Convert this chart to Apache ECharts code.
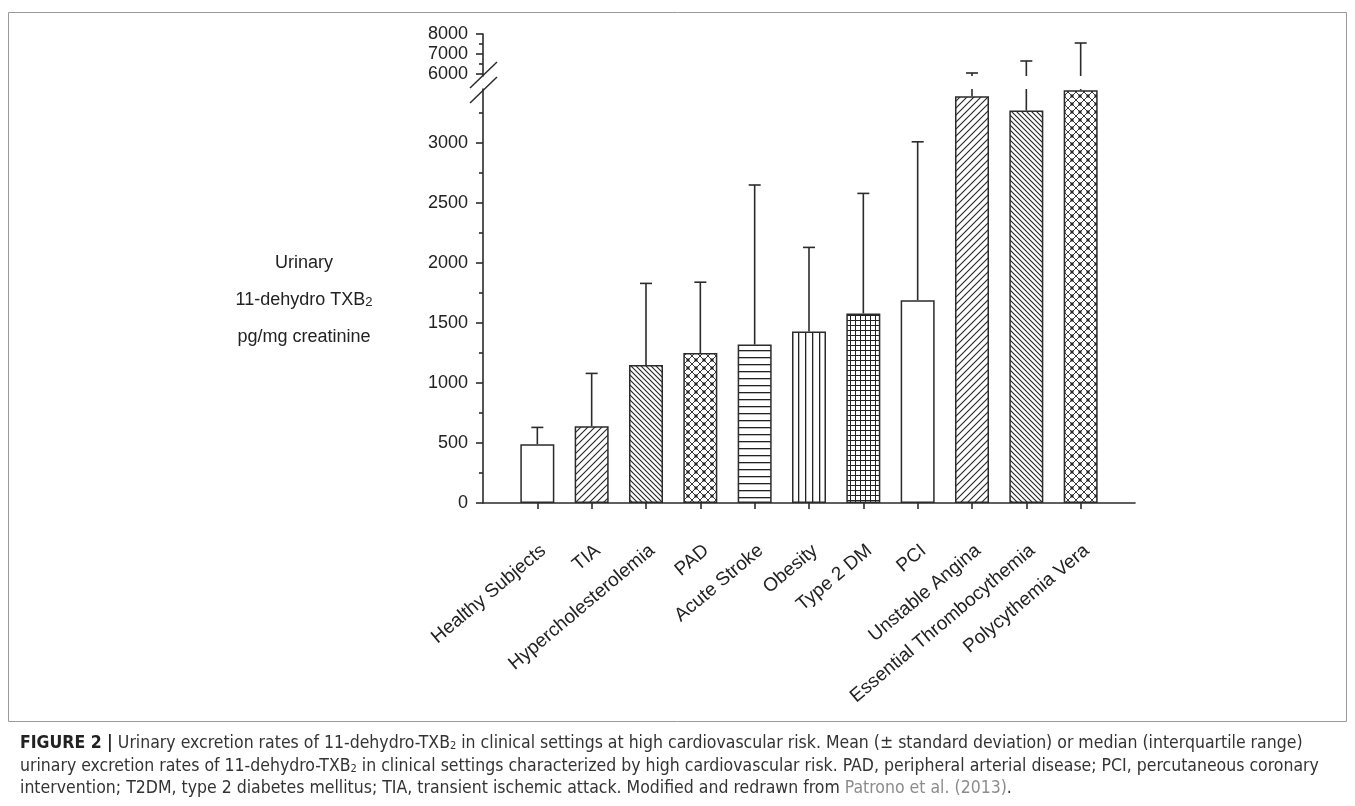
<!DOCTYPE html>
<html>
<head>
<meta charset="utf-8">
<script src="https://cdn.jsdelivr.net/npm/echarts@6/dist/echarts.min.js"></script>
<style>
  html, body { margin: 0; padding: 0; background: #ffffff; }
  #chart { width: 1355px; height: 806px; }
</style>
</head>
<body>
<div id="chart"></div>
<script>
// Urinary 11-dehydro-TXB2 (pg/mg creatinine) by clinical setting
const categories = [
  'Healthy Subjects', 'TIA', 'Hypercholesterolemia', 'PAD', 'Acute Stroke',
  'Obesity', 'Type 2 DM', 'PCI', 'Unstable Angina',
  'Essential Thrombocythemia', 'Polycythemia Vera'
];
// bar height: mean or median
const meanValues = [490, 640, 1150, 1250, 1320, 1430, 1580, 1690, 3390, 3270, 3440];
// top of the whisker: mean + SD or upper quartile
const upperValues = [630, 1080, 1830, 1840, 2650, 2130, 2580, 3010, 6050, 6650, 7550];
// fill pattern of each bar
const fills = ['plain', 'fwd', 'back', 'lattice', 'horiz', 'vert', 'grid', 'plain', 'fwd', 'back', 'lattice'];

// tick labels of the two axis segments (axis is broken between them)
const lowerTicks = [0, 500, 1000, 1500, 2000, 2500, 3000];
const lowerMinorTicks = [250, 750, 1250, 1750, 2250, 2750, 3250];
const upperTicks = [6000, 7000, 8000];
const upperMinorTicks = [6500, 7500];

const LOWER_MAX = 3450;
const UPPER_MIN = 5900;
const UPPER_MAX = 8000;

const INK = '#2b2b2b';
const FONT = "'Liberation Sans', Arial, sans-serif";

// small repeating tiles used as hatch fills
function makeTile(kind) {
  const sizes = { fwd: [7, 7], back: [5, 5], lattice: [8, 8], horiz: [4, 7], vert: [7, 4], grid: [5, 5] };
  const [w, h] = sizes[kind];
  const c = document.createElement('canvas');
  c.width = w; c.height = h;
  const g = c.getContext('2d');
  g.fillStyle = '#ffffff';
  g.fillRect(0, 0, w, h);
  g.strokeStyle = '#222';
  g.fillStyle = '#222';
  g.lineWidth = 1.1;
  const seg = (x1, y1, x2, y2) => { g.beginPath(); g.moveTo(x1, y1); g.lineTo(x2, y2); g.stroke(); };
  if (kind === 'fwd') {
    seg(-1, w + 1, w + 1, -1); seg(-1, 1, 1, -1); seg(w - 1, w + 1, w + 1, w - 1);
  } else if (kind === 'back') {
    seg(-1, -1, w + 1, w + 1); seg(-1, w - 1, 1, w + 1); seg(w - 1, -1, w + 1, 1);
  } else if (kind === 'lattice') {
    g.lineWidth = 0.9;
    seg(-1, -1, w + 1, w + 1); seg(-1, w + 1, w + 1, -1);
    g.fillRect(0, 0, 1.5, 1.5); g.fillRect(w - 1.5, 0, 1.5, 1.5);
    g.fillRect(0, h - 1.5, 1.5, 1.5); g.fillRect(w - 1.5, h - 1.5, 1.5, 1.5);
  } else if (kind === 'horiz') {
    g.fillRect(0, 0, w, 1.3);
  } else if (kind === 'vert') {
    g.fillRect(0, 0, 1.3, h);
  } else if (kind === 'grid') {
    g.fillRect(0, 0, w, 1); g.fillRect(0, 0, 1, h);
  }
  return c;
}
function fillFor(kind) {
  if (kind === 'plain') return '#ffffff';
  return { image: makeTile(kind), repeat: 'repeat' };
}

const positions = categories.map((c, i) => i + 1);
const barData = categories.map((c, i) => ({
  value: [positions[i], meanValues[i]],
  itemStyle: { color: fillFor(fills[i]) }
}));
const errData = categories.map((c, i) => [positions[i], meanValues[i], upperValues[i]]);

const CAP = 6;
const errStyle = { stroke: INK, lineWidth: 1.6 };

// whiskers in the lower segment: cut at the break if they reach past it
function renderLowerErr(params, api) {
  const x = api.value(0), lo = api.value(1), hi = api.value(2);
  const top = Math.min(hi, LOWER_MAX);
  const p0 = api.coord([x, lo]);
  const p1 = api.coord([x, top]);
  const children = [{ type: 'line', shape: { x1: p0[0], y1: p0[1], x2: p1[0], y2: p1[1] }, style: errStyle }];
  if (hi <= LOWER_MAX) {
    children.push({ type: 'line', shape: { x1: p1[0] - CAP, y1: p1[1], x2: p1[0] + CAP, y2: p1[1] }, style: errStyle });
  }
  return { type: 'group', children };
}
// whiskers continued above the break
function renderUpperErr(params, api) {
  const x = api.value(0), lo = api.value(1), hi = api.value(2);
  if (hi < UPPER_MIN) return null;
  const p0 = api.coord([x, Math.max(lo, UPPER_MIN)]);
  const p1 = api.coord([x, hi]);
  return {
    type: 'group',
    children: [
      { type: 'line', shape: { x1: p0[0], y1: p0[1], x2: p1[0], y2: p1[1] }, style: errStyle },
      { type: 'line', shape: { x1: p1[0] - CAP, y1: p1[1], x2: p1[0] + CAP, y2: p1[1] }, style: errStyle }
    ]
  };
}

const axisLineStyle = { color: INK, width: 1.6 };
const tickLabelStyle = { color: '#222', fontSize: 18, fontFamily: FONT };

function majorY(grid, min, max, ticks) {
  return {
    type: 'value', gridIndex: grid, position: 'left', min: min, max: max,
    axisLine: { show: true, onZero: false, lineStyle: axisLineStyle },
    axisTick: { show: true, customValues: ticks, length: 7, lineStyle: axisLineStyle },
    axisLabel: Object.assign({ customValues: ticks, margin: 15, formatter: v => String(v) }, tickLabelStyle),
    splitLine: { show: false }
  };
}
function minorY(grid, min, max, ticks) {
  return {
    type: 'value', gridIndex: grid, position: 'left', min: min, max: max,
    axisLine: { show: false },
    axisTick: { show: true, customValues: ticks, length: 4, lineStyle: axisLineStyle },
    axisLabel: { show: false },
    splitLine: { show: false }
  };
}

const captionFont = "'Liberation Sans Narrow', 'DejaVu Sans Condensed', 'Liberation Sans', Arial, sans-serif";
const CAP_SIZE = 17.5;
const capRich = {
  b: { fontSize: CAP_SIZE, fontWeight: 'bold', fontFamily: captionFont, fill: '#222', color: '#222' },
  s: { fontSize: 11, fontFamily: captionFont, verticalAlign: 'bottom', fill: '#333', color: '#333' },
  l: { fontSize: CAP_SIZE, fontFamily: captionFont, fill: '#8c8c8c', color: '#8c8c8c' }
};
function captionLine(y, text) {
  return {
    type: 'text', x: 20, y: y,
    style: { text: text, fontSize: CAP_SIZE, fontFamily: captionFont, fill: '#333', verticalAlign: 'middle', rich: capRich }
  };
}
function titleLine(y, text) {
  return {
    type: 'text', x: 304, y: y,
    style: {
      text: text, fontSize: 18, fontFamily: FONT, fill: '#222', align: 'center', verticalAlign: 'middle',
      rich: { s: { fontSize: 13, fontFamily: FONT, fill: '#222', verticalAlign: 'bottom' } }
    }
  };
}

const option = {
  animation: false,
  backgroundColor: '#ffffff',
  grid: [
    { left: 483, right: 220, top: 89, bottom: 303 },
    { left: 483, right: 220, top: 34, bottom: 730 }
  ],
  xAxis: [
    {
      type: 'value', gridIndex: 0, min: 0, max: 12,
      axisLine: { show: true, onZero: false, lineStyle: axisLineStyle },
      axisTick: { show: true, customValues: positions, length: 6, lineStyle: axisLineStyle },
      axisLabel: {
        customValues: positions,
        formatter: v => categories[Math.round(v) - 1] || '',
        rotate: 40, align: 'right', verticalAlign: 'top', margin: 38,
        color: '#222', fontSize: 19, fontFamily: FONT
      },
      splitLine: { show: false }
    },
    { type: 'value', gridIndex: 1, min: 0, max: 12, show: false }
  ],
  yAxis: [
    majorY(0, 0, LOWER_MAX, lowerTicks),
    minorY(0, 0, LOWER_MAX, lowerMinorTicks),
    majorY(1, UPPER_MIN, UPPER_MAX, upperTicks),
    minorY(1, UPPER_MIN, UPPER_MAX, upperMinorTicks)
  ],
  series: [
    {
      type: 'bar', xAxisIndex: 0, yAxisIndex: 0, barWidth: 34,
      itemStyle: { borderColor: INK, borderWidth: 1.5 },
      data: barData, z: 2
    },
    {
      type: 'custom', xAxisIndex: 0, yAxisIndex: 0, renderItem: renderLowerErr,
      encode: { x: 0, y: [1, 2] }, data: errData, z: 3
    },
    {
      type: 'custom', xAxisIndex: 1, yAxisIndex: 2, renderItem: renderUpperErr,
      encode: { x: 0, y: [1, 2] }, data: errData, z: 3, clip: false
    }
  ],
  graphic: [
    // frame around the figure
    { type: 'rect', shape: { x: 8.5, y: 12.5, width: 1338, height: 709 }, style: { fill: 'none', stroke: '#9a9a9a', lineWidth: 1 }, silent: true },
    // axis break marks
    { type: 'line', shape: { x1: 470, y1: 88, x2: 497, y2: 62 }, style: { stroke: INK, lineWidth: 1.5 } },
    { type: 'line', shape: { x1: 470, y1: 103, x2: 497, y2: 77 }, style: { stroke: INK, lineWidth: 1.5 } },
    // y-axis title
    titleLine(263, 'Urinary'),
    titleLine(300, '11-dehydro TXB{s|2}'),
    titleLine(337, 'pg/mg creatinine'),
    // caption
    captionLine(743, '{b|FIGURE 2 |} Urinary excretion rates of 11-dehydro-TXB{s|2} in clinical settings at high cardiovascular risk. Mean (\u00b1 standard deviation) or median (interquartile range)'),
    captionLine(766, 'urinary excretion rates of 11-dehydro-TXB{s|2} in clinical settings characterized by high cardiovascular risk. PAD, peripheral arterial disease; PCI, percutaneous coronary'),
    captionLine(788, 'intervention; T2DM, type 2 diabetes mellitus; TIA, transient ischemic attack. Modified and redrawn from {l|Patrono et al. (2013)}.')
  ]
};

const chart = echarts.init(document.getElementById('chart'), null, { renderer: 'canvas' });
chart.setOption(option);
</script>
</body>
</html>
